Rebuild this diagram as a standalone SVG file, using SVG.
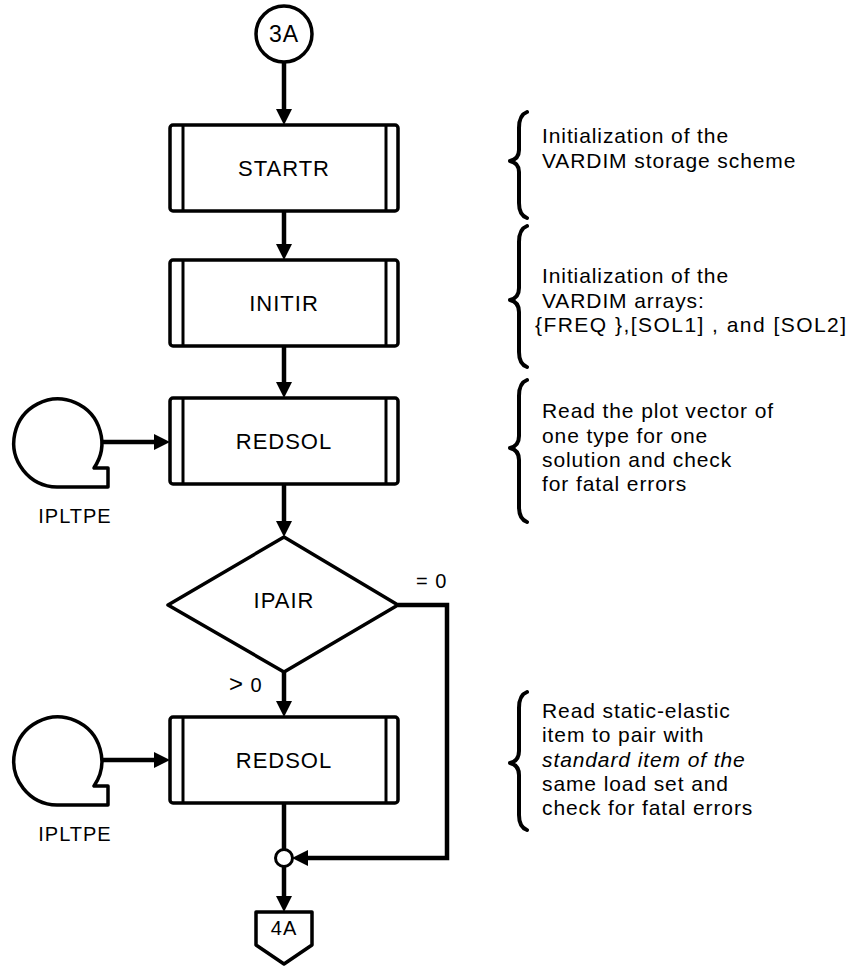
<svg xmlns="http://www.w3.org/2000/svg" width="850" height="967" viewBox="0 0 850 967">
  <style>
    .shape { fill: #fff; stroke: #000; stroke-width: 3.5; stroke-linejoin: round; }
    .bar { stroke: #000; stroke-width: 3; }
    .flow { fill: none; stroke: #000; stroke-width: 4.5; stroke-linejoin: miter; }
    .brace { fill: none; stroke: #000; stroke-width: 4; stroke-linecap: round; stroke-linejoin: round; }
    .lbl { font-family: "Liberation Sans", Arial, sans-serif; font-size: 22px; letter-spacing: 1px; fill: #000; text-anchor: middle; }
    .note { font-family: "Liberation Sans", Arial, sans-serif; font-size: 21px; letter-spacing: 0.9px; fill: #000; }
    .small { font-family: "Liberation Sans", Arial, sans-serif; font-size: 20px; letter-spacing: 1px; fill: #000; }
  </style>
  <defs>
    <marker id="arrow" viewBox="0 0 16 16" markerWidth="16" markerHeight="16" refX="8" refY="8" markerUnits="userSpaceOnUse" orient="auto">
      <path d="M0,0 L16,8 L0,16 Z" fill="#000"/>
    </marker>
    <!-- tape storage symbol -->
    <path id="tape" d="M57 487 A44 44 0 1 1 94 468 L108 468 L108 487 Z"/>
  </defs>
  <rect width="850" height="967" fill="#fff"/>

  <!-- connectors -->
  <g id="connectors">
    <line class="flow" x1="284" y1="62" x2="284" y2="117" marker-end="url(#arrow)"/>
    <line class="flow" x1="284" y1="211" x2="284" y2="252" marker-end="url(#arrow)"/>
    <line class="flow" x1="284" y1="346" x2="284" y2="390" marker-end="url(#arrow)"/>
    <line class="flow" x1="284" y1="484" x2="284" y2="529" marker-end="url(#arrow)"/>
    <line class="flow" x1="284" y1="672" x2="284" y2="709" marker-end="url(#arrow)"/>
    <line class="flow" x1="101" y1="442" x2="162" y2="442" marker-end="url(#arrow)"/>
    <line class="flow" x1="101" y1="760" x2="162" y2="760" marker-end="url(#arrow)"/>
    <polyline class="flow" points="398,605 447,605 447,858 300,858" marker-end="url(#arrow)"/>
    <line class="flow" x1="284" y1="803" x2="284" y2="849"/>
    <line class="flow" x1="284" y1="867" x2="284" y2="904" marker-end="url(#arrow)"/>
    <text class="small" x="416" y="588">= 0</text>
    <text class="small" x="229" y="692"><tspan style="font-size:24px">&gt;</tspan> 0</text>
  </g>

  <g id="start-3A">
    <circle class="shape" cx="284" cy="34" r="28"/>
    <text class="lbl" x="284" y="42" style="font-size:23px">3A</text>
  </g>

  <g id="startr">
    <rect class="shape" x="170" y="125" width="228" height="86" rx="3"/>
    <line class="bar" x1="183" y1="125" x2="183" y2="211"/>
    <line class="bar" x1="386" y1="125" x2="386" y2="211"/>
    <text class="lbl" x="284" y="176">STARTR</text>
  </g>

  <g id="initir">
    <rect class="shape" x="170" y="260" width="228" height="86" rx="3"/>
    <line class="bar" x1="183" y1="260" x2="183" y2="346"/>
    <line class="bar" x1="386" y1="260" x2="386" y2="346"/>
    <text class="lbl" x="284" y="311">INITIR</text>
  </g>

  <g id="redsol-1">
    <rect class="shape" x="170" y="398" width="228" height="86" rx="3"/>
    <line class="bar" x1="183" y1="398" x2="183" y2="484"/>
    <line class="bar" x1="386" y1="398" x2="386" y2="484"/>
    <text class="lbl" x="284" y="449">REDSOL</text>
  </g>

  <g id="tape-1">
    <use href="#tape" class="shape"/>
    <text class="small" x="75" y="523" text-anchor="middle">IPLTPE</text>
  </g>

  <g id="ipair">
    <polygon class="shape" points="284,537 398,605 284,672 168,605"/>
    <text class="lbl" x="284" y="608">IPAIR</text>
  </g>

  <g id="redsol-2">
    <rect class="shape" x="170" y="717" width="228" height="86" rx="3"/>
    <line class="bar" x1="183" y1="717" x2="183" y2="803"/>
    <line class="bar" x1="386" y1="717" x2="386" y2="803"/>
    <text class="lbl" x="284" y="768">REDSOL</text>
  </g>

  <g id="tape-2">
    <use href="#tape" class="shape" transform="translate(0,318)"/>
    <text class="small" x="75" y="841" text-anchor="middle">IPLTPE</text>
  </g>

  <g id="junction">
    <circle class="shape" cx="284" cy="858" r="8.5" style="stroke-width:3"/>
  </g>

  <g id="exit-4A">
    <polygon class="shape" points="256,912 312,912 312,945 284,964 256,945"/>
    <text class="lbl" x="284" y="935" style="font-size:20px">4A</text>
  </g>

  <!-- annotations -->
  <g id="note-startr">
    <path class="brace" d="M527 112 Q519 115 519 128 L519 150 Q519 159 510 161 Q519 163 519 172 L519 203 Q519 215 527 218"/>
    <text class="note" x="542" y="143">Initialization of the</text>
    <text class="note" x="542" y="168">VARDIM storage scheme</text>
  </g>

  <g id="note-initir">
    <path class="brace" d="M527 226 Q519 229 519 242 L519 288 Q519 298 510 300 Q519 302 519 312 L519 352 Q519 364 527 367"/>
    <text class="note" x="542" y="283">Initialization of the</text>
    <text class="note" x="542" y="308">VARDIM arrays:</text>
    <text class="note" x="535" y="332" textLength="312" lengthAdjust="spacing">{FREQ },[SOL1] , and [SOL2]</text>
  </g>

  <g id="note-redsol-1">
    <path class="brace" d="M527 380 Q519 383 519 396 L519 436 Q519 446 510 448 Q519 450 519 460 L519 507 Q519 519 527 522"/>
    <text class="note" x="542" y="418">Read the plot vector of</text>
    <text class="note" x="542" y="443">one type for one</text>
    <text class="note" x="542" y="467">solution and check</text>
    <text class="note" x="542" y="491">for fatal errors</text>
  </g>

  <g id="note-redsol-2">
    <path class="brace" d="M527 692 Q519 695 519 708 L519 751 Q519 761 510 763 Q519 765 519 775 L519 815 Q519 827 527 830"/>
    <text class="note" x="542" y="718">Read static-elastic</text>
    <text class="note" x="542" y="742">item to pair with</text>
    <text class="note" x="542" y="767" font-style="italic">standard item of the</text>
    <text class="note" x="542" y="791">same load set and</text>
    <text class="note" x="542" y="815">check for fatal errors</text>
  </g>
</svg>
